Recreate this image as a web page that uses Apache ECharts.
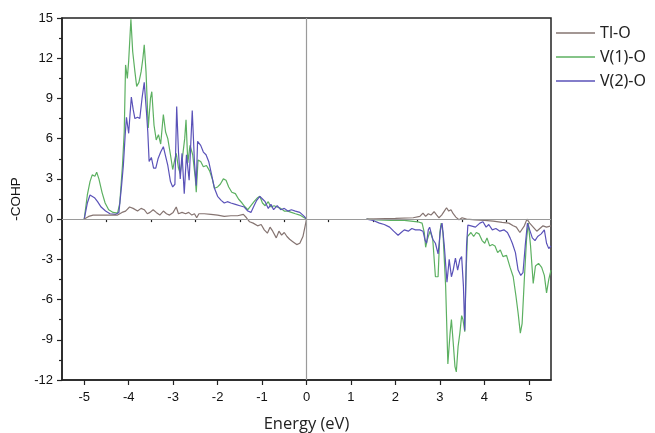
<!DOCTYPE html>
<html>
<head>
<meta charset="utf-8">
<script src="https://cdn.jsdelivr.net/npm/echarts@6/dist/echarts.min.js"></script>
<style>html,body{margin:0;padding:0;background:#fff;}#chart{width:655px;height:433px;}</style>
</head>
<body>
<div id="chart"></div>
<script>
// Series names
const seriesNames = ['Tl-O', 'V(1)-O', 'V(2)-O'];
// Tick labels
const xTicks = [-5, -4, -3, -2, -1, 0, 1, 2, 3, 4, 5];
const xMinorTicks = [-4.5, -3.5, -2.5, -1.5, -0.5, 0.5, 1.5, 2.5, 3.5, 4.5];

// Tl-O
const tlE = [-5.0,-4.9,-4.8,-4.6,-4.4,-4.25,-4.15,-4.07,-3.98,-3.9,-3.8,-3.72,-3.65,-3.58,-3.52,-3.45,-3.38,-3.3,-3.22,-3.15,-3.08,-3.0,-2.93,-2.88,-2.8,-2.72,-2.65,-2.58,-2.52,-2.47,-2.42,-2.3,-2.15,-2.0,-1.85,-1.7,-1.55,-1.42,-1.35,-1.28,-1.2,-1.1,-1.02,-0.95,-0.88,-0.82,-0.76,-0.68,-0.62,-0.56,-0.5,-0.44,-0.38,-0.3,-0.22,-0.15,-0.08,-0.03,0,
  0.7,
  1.35,2.0,2.4,2.55,2.62,2.68,2.74,2.8,2.87,2.93,2.98,3.04,3.1,3.15,3.2,3.25,3.3,3.36,3.43,3.5,3.6,3.8,4.0,4.2,4.4,4.55,4.65,4.72,4.8,4.84,4.9,4.96,5.02,5.1,5.18,5.25,5.32,5.4,5.5];
const tlV = [0,0.2,0.3,0.3,0.3,0.3,0.5,0.6,0.9,0.8,0.6,0.8,0.7,0.4,0.5,0.7,0.5,0.3,0.6,0.4,0.3,0.5,0.9,0.4,0.5,0.4,0.5,0.3,0.4,0.1,0.4,0.4,0.35,0.3,0.2,0.25,0.25,0.35,0.1,-0.2,-0.3,-0.5,-0.4,-0.8,-1.05,-0.6,-0.9,-1.4,-0.9,-1.2,-1.0,-1.3,-1.5,-1.7,-1.9,-1.8,-1.3,-0.5,0,
  null,
  0,0.05,0.1,0.2,0.45,0.2,0.4,0.3,0.55,0.3,0.1,0.3,0.6,0.85,0.6,0.7,0.4,0.15,-0.05,0.1,0,-0.05,-0.1,-0.15,-0.25,-0.3,-0.5,-0.6,-1.0,-1.1,-0.5,0,-0.3,-0.6,-0.9,-0.7,-0.5,-0.6,-0.5];

// V(1)-O
const v1E = [-5.0,-4.93,-4.87,-4.82,-4.76,-4.72,-4.67,-4.6,-4.53,-4.45,-4.35,-4.25,-4.2,-4.14,-4.1,-4.07,-4.03,-4.0,-3.95,-3.91,-3.86,-3.82,-3.77,-3.72,-3.68,-3.65,-3.61,-3.56,-3.51,-3.48,-3.43,-3.38,-3.33,-3.28,-3.22,-3.17,-3.12,-3.06,-3.01,-2.96,-2.93,-2.88,-2.84,-2.79,-2.74,-2.71,-2.67,-2.62,-2.56,-2.5,-2.48,-2.44,-2.38,-2.32,-2.25,-2.18,-2.12,-2.07,-2.0,-1.94,-1.87,-1.81,-1.75,-1.68,-1.6,-1.53,-1.45,-1.38,-1.32,-1.25,-1.18,-1.1,-1.05,-0.99,-0.93,-0.86,-0.8,-0.73,-0.66,-0.58,-0.5,-0.42,-0.34,-0.25,-0.15,-0.05,0,
  0.7,
  1.35,1.6,1.9,2.2,2.5,2.6,2.65,2.68,2.72,2.78,2.84,2.9,2.96,3.0,3.03,3.07,3.13,3.18,3.23,3.26,3.3,3.34,3.37,3.41,3.45,3.49,3.52,3.56,3.59,3.62,3.7,3.76,3.82,3.88,3.95,4.01,4.06,4.12,4.18,4.24,4.3,4.36,4.42,4.5,4.58,4.65,4.71,4.76,4.81,4.85,4.9,4.95,4.99,5.04,5.1,5.15,5.22,5.29,5.35,5.4,5.45,5.5];
const v1V = [0,1.8,2.8,3.3,3.2,3.5,3.0,2.0,1.2,0.7,0.5,0.45,1.2,4.0,6.5,11.5,10.5,11.8,14.9,12.5,11.0,9.9,10.2,11.0,12.0,13.0,11.0,6.8,9.0,9.5,7.0,5.9,6.3,5.6,7.8,6.5,6.0,4.8,3.7,4.5,4.9,3.8,3.4,4.6,6.0,7.4,4.2,5.5,4.8,3.0,2.0,4.4,4.3,3.9,4.0,3.6,3.0,2.3,2.4,2.6,3.0,2.9,2.4,2.0,1.9,1.5,1.2,0.9,0.7,1.0,1.3,1.6,1.7,1.2,1.0,1.3,0.9,1.0,0.9,0.8,0.6,0.6,0.5,0.4,0.3,0.1,0,
  null,
  0,-0.05,-0.1,-0.1,-0.2,-0.3,-1.0,-2.1,-1.5,-0.9,-1.5,-4.3,-4.3,-1.0,-0.3,-1.0,-5.0,-10.8,-8.5,-7.5,-9.2,-11.0,-11.4,-9.5,-8.5,-7.2,-7.5,-8.4,-4.0,-1.3,-1.0,-1.3,-1.0,-1.1,-1.6,-1.8,-1.4,-2.0,-1.9,-2.0,-2.5,-2.3,-2.8,-2.7,-3.6,-4.3,-5.7,-7.0,-8.5,-7.8,-4.5,-1.5,-0.3,-2.0,-4.8,-3.5,-3.3,-3.6,-4.2,-5.5,-4.5,-3.8];

// V(2)-O
const v2E = [-5.0,-4.93,-4.87,-4.83,-4.77,-4.7,-4.62,-4.52,-4.42,-4.3,-4.22,-4.16,-4.12,-4.08,-4.05,-4.0,-3.97,-3.94,-3.9,-3.86,-3.8,-3.75,-3.7,-3.65,-3.6,-3.57,-3.54,-3.49,-3.44,-3.39,-3.34,-3.28,-3.22,-3.17,-3.12,-3.06,-3.01,-2.96,-2.92,-2.88,-2.84,-2.8,-2.75,-2.7,-2.64,-2.57,-2.52,-2.48,-2.45,-2.38,-2.32,-2.26,-2.2,-2.14,-2.07,-2.0,-1.92,-1.85,-1.78,-1.7,-1.6,-1.5,-1.4,-1.32,-1.25,-1.18,-1.12,-1.05,-0.99,-0.93,-0.86,-0.8,-0.74,-0.66,-0.58,-0.5,-0.42,-0.34,-0.25,-0.15,-0.05,0,
  0.7,
  1.35,1.5,1.64,1.75,1.87,1.96,2.06,2.13,2.2,2.29,2.37,2.45,2.55,2.62,2.67,2.7,2.74,2.77,2.84,2.9,2.96,3.02,3.05,3.1,3.16,3.21,3.26,3.3,3.35,3.4,3.45,3.49,3.53,3.56,3.6,3.63,3.7,3.8,3.9,3.97,4.04,4.1,4.18,4.26,4.35,4.44,4.52,4.58,4.63,4.7,4.76,4.82,4.87,4.92,4.97,5.02,5.08,5.14,5.2,5.28,5.35,5.4,5.45,5.5];
const v2V = [0,1.2,1.8,1.9,1.6,1.3,0.9,0.6,0.4,0.35,0.5,2.5,4.0,6.2,7.6,6.4,7.8,9.1,8.2,7.5,7.6,7.5,9.0,10.2,8.0,6.5,4.3,4.6,3.8,3.8,4.5,5.0,5.4,4.7,4.0,2.8,2.4,2.6,8.4,5.0,3.0,4.9,1.9,4.8,2.9,8.1,4.2,2.5,5.8,5.5,5.0,4.8,4.3,3.4,2.3,1.7,1.4,1.2,1.3,1.2,1.1,1.0,0.9,0.6,0.5,1.0,1.4,1.7,1.5,1.3,0.8,1.1,0.7,1.0,0.7,0.8,0.6,0.7,0.6,0.5,0.2,0,
  null,
  0,-0.1,-0.3,-0.4,-0.6,-0.9,-1.2,-1.0,-0.8,-0.9,-0.7,-0.8,-0.8,-0.9,-1.6,-1.8,-0.8,-0.6,-1.5,-1.8,-2.6,-0.6,-0.3,-2.0,-4.7,-3.0,-4.3,-3.8,-2.9,-3.8,-3.0,-2.8,-5.0,-8.3,-2.0,-0.45,-0.5,-0.6,-0.3,-0.2,-0.6,-0.4,-0.8,-0.7,-0.9,-0.8,-1.0,-1.4,-1.8,-2.5,-3.8,-4.2,-4.0,-2.0,-0.3,-0.8,-1.4,-1.6,-1.3,-1.1,-0.8,-1.8,-2.2,-2.0];

function pairs(xs, ys) {
  return xs.map((x, i) => [x, ys[i] === null ? '-' : ys[i]]);
}

const colors = ['#857471', '#5cb061', '#5a52b8'];
const font = 'Liberation Sans, Arial, sans-serif';

const chart = echarts.init(document.getElementById('chart'), null, { renderer: 'canvas' });
chart.setOption({
  animation: false,
  backgroundColor: '#ffffff',
  grid: { left: 62, right: 104, top: 18, bottom: 53, show: true, borderColor: '#222', borderWidth: 1.5, backgroundColor: 'transparent', containLabel: false, outerBoundsMode: 'none' },
  legend: {
    orient: 'vertical', left: 556, top: 25, padding: 0, itemWidth: 39, itemHeight: 1.4, itemGap: 8,
    icon: 'rect',
    data: seriesNames,
    textStyle: { fontFamily: 'Noto Sans, sans-serif', fontSize: 16, lineHeight: 16, color: '#222' }
  },
  xAxis: [{
    type: 'value', min: -5.5, max: 5.5,
    axisLine: { show: true, onZero: false, lineStyle: { color: '#222', width: 1.5 } },
    axisTick: { show: true, customValues: xTicks, length: 5, lineStyle: { color: '#222', width: 1.2 } },
    axisLabel: { customValues: xTicks, fontFamily: font, fontSize: 13, color: '#111', margin: 11 },
    splitLine: { show: false },
    name: 'Energy (eV)', nameLocation: 'middle', nameGap: 36,
    nameTextStyle: { fontFamily: 'Open Sans, sans-serif', fontSize: 16.5, color: '#222' }
  }, {
    type: 'value', min: -5.5, max: 5.5, position: 'bottom',
    axisLine: { show: false },
    axisTick: { show: true, customValues: xMinorTicks, length: 3, lineStyle: { color: '#222', width: 1.2 } },
    axisLabel: { show: false },
    splitLine: { show: false }
  }],
  yAxis: {
    type: 'value', min: -12, max: 15, interval: 3,
    axisLine: { show: true, onZero: false, lineStyle: { color: '#222', width: 1.5 } },
    axisTick: { show: true, length: 5, lineStyle: { color: '#222', width: 1.2 } },
    minorTick: { show: true, splitNumber: 2, length: 3, lineStyle: { color: '#222', width: 1.2 } },
    axisLabel: { fontFamily: font, fontSize: 13, color: '#111', margin: 9 },
    splitLine: { show: false },
    name: '-COHP', nameLocation: 'middle', nameGap: 30, nameRotate: 90,
    nameTextStyle: { fontFamily: font, fontSize: 13.5, color: '#111' }
  },
  series: [
    {
      name: 'V(1)-O', type: 'line', symbol: 'none', data: pairs(v1E, v1V), connectNulls: false,
      lineStyle: { color: colors[1], width: 1.2 }, itemStyle: { color: colors[1] }, z: 2,
      markLine: {
        silent: true, symbol: 'none', label: { show: false },
        lineStyle: { color: '#9a9a9a', width: 1.2, type: 'solid' },
        data: [{ yAxis: 0 }, { xAxis: 0 }]
      }
    },
    { name: 'V(2)-O', type: 'line', symbol: 'none', data: pairs(v2E, v2V), connectNulls: false,
      lineStyle: { color: colors[2], width: 1.2 }, itemStyle: { color: colors[2] }, z: 3 },
    { name: 'Tl-O', type: 'line', symbol: 'none', data: pairs(tlE, tlV), connectNulls: false,
      lineStyle: { color: colors[0], width: 1.2 }, itemStyle: { color: colors[0] }, z: 4 }
  ]
});
</script>
</body>
</html>
